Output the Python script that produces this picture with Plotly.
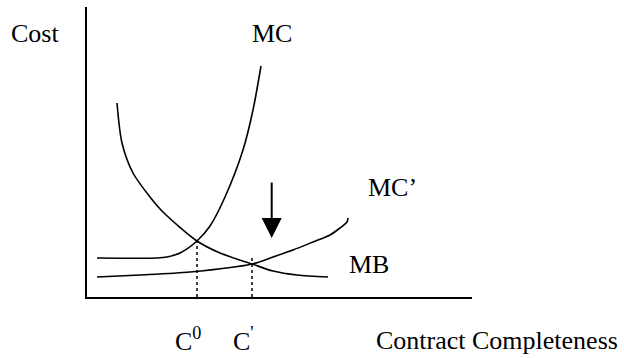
import plotly.graph_objects as go

# Data in chart units (x: contract completeness, y: cost)
mc_x = [1.0, 7.0, 8.0, 9.3, 11.0, 12.3, 13.8, 15.6, 16.6, 17.4]
mc_y = [3.9, 3.9, 4.0, 4.4, 5.6, 7.1, 10.0, 14.7, 18.7, 23.1]

mb_x = [3.0, 3.5, 4.6, 6.3, 7.6, 11.0, 13.3, 16.5, 18.6, 21.0, 24.1]
mb_y = [19.4, 15.4, 12.4, 10.0, 8.5, 5.6, 4.4, 3.3, 2.6, 2.2, 2.0]

mcp_x = [1.0, 5.3, 10.3, 16.5, 18.6, 20.6, 22.6, 24.3, 25.3, 26.0, 26.1]
mcp_y = [2.0, 2.2, 2.5, 3.3, 4.0, 4.7, 5.5, 6.2, 6.9, 7.5, 7.9]

c0_x, c0_top = 11.0, 5.6
c1_x, c1_top = 16.5, 4.0

arrow_x, arrow_tail, arrow_tip = 18.47, 11.6, 5.9

FONT = "Liberation Serif, Times New Roman, serif"
W, H = 624, 358
L, R, T, B = 87, 152, 7, 61
PW, PH = W - L - R, H - T - B

fig = go.Figure()
line = dict(color="black", width=1.6)
fig.add_trace(go.Scatter(x=mc_x, y=mc_y, mode="lines", line=dict(**line, shape="spline", smoothing=0.8)))
fig.add_trace(go.Scatter(x=mb_x, y=mb_y, mode="lines", line=dict(**line, shape="spline", smoothing=0.8)))
fig.add_trace(go.Scatter(x=mcp_x, y=mcp_y, mode="lines", line=dict(**line, shape="spline", smoothing=0.8)))
for cx, ct in [(c0_x, c0_top), (c1_x, c1_top)]:
    fig.add_trace(go.Scatter(x=[cx, cx], y=[0, ct], mode="lines",
                             line=dict(color="black", width=1.5, dash="dot")))

anns = [
    ("Cost", 11, 34),
    ("MC", 252, 34),
    ("MC\u2019", 368, 187),
    ("MB", 349, 264),
    ("C<sup>0</sup>", 175, 339),
    ("C<sup>'</sup>", 233, 339),
    ("Contract Completeness", 376, 340),
]
for t, xl, yc in anns:
    fig.add_annotation(x=(xl - 2 - L) / PW, y=(H - B - yc) / PH, xref="paper", yref="paper",
                       text=t, showarrow=False,
                       xanchor="left", yanchor="middle",
                       font=dict(family=FONT, size=26, color="black"))

fig.add_annotation(x=arrow_x, y=arrow_tip, ax=arrow_x, ay=arrow_tail,
                   xref="x", yref="y", axref="x", ayref="y", text="",
                   showarrow=True, arrowhead=2, arrowsize=2, arrowwidth=2,
                   arrowcolor="black")

fig.update_layout(
    width=W, height=H,
    margin=dict(l=L, r=R, t=T, b=B),
    paper_bgcolor="white", plot_bgcolor="white",
    showlegend=False,
    xaxis=dict(range=[0, 38.5], showgrid=False, zeroline=False, showticklabels=False,
               ticks="", showline=True, linecolor="black", linewidth=1.8, fixedrange=True),
    yaxis=dict(range=[0, 29.0], showgrid=False, zeroline=False, showticklabels=False,
               ticks="", showline=True, linecolor="black", linewidth=1.8, fixedrange=True),
)

fig.write_html("out.html", config={"displayModeBar": False},
               post_script="document.body.style.margin='0';")
